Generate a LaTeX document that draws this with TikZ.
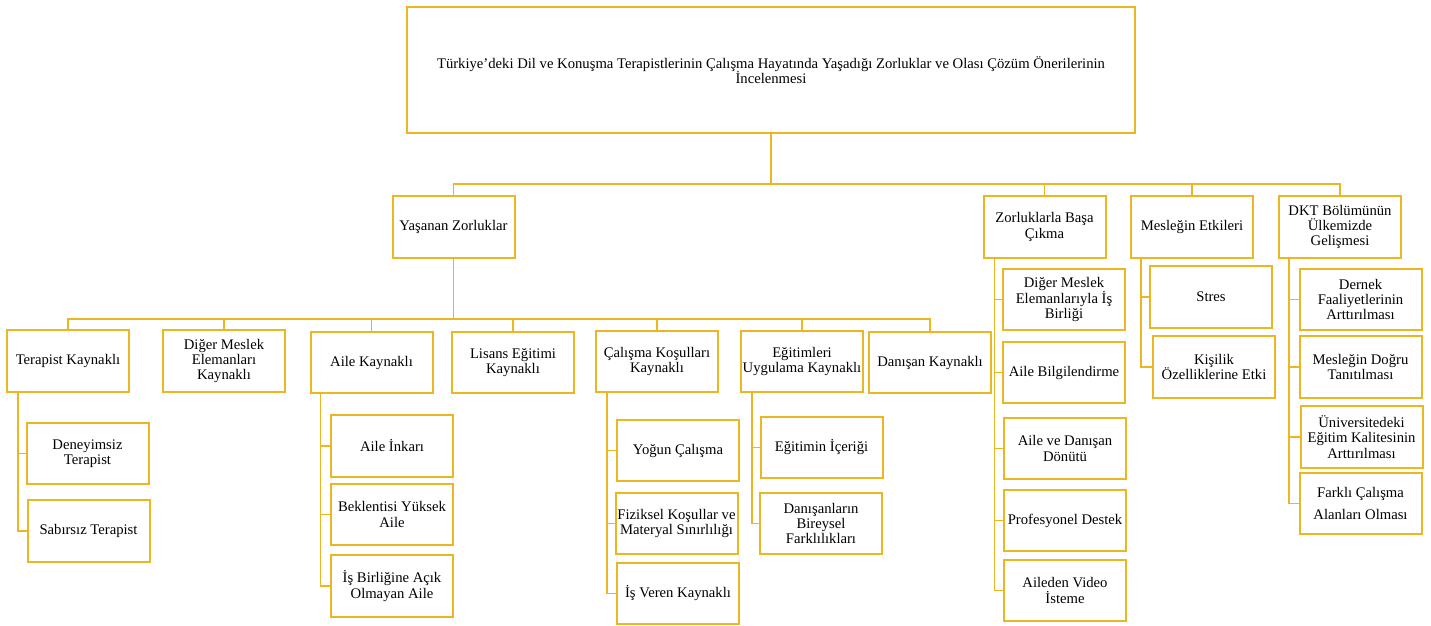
\documentclass[tikz,border=0pt]{standalone}
\usepackage{fontspec}
\setmainfont{Liberation Serif}
\usetikzlibrary{positioning, calc}
\definecolor{boxgold}{RGB}{236,182,34}

\tikzset{
  topicbox/.style={draw=boxgold, line width=1.5pt, fill=white, align=center, inner sep=1pt,
    minimum width=91.5pt, minimum height=46pt, font=\fontsize{11}{11.5}\selectfont},
  link/.style={draw=boxgold, line width=1.4pt},
}

\begin{document}
\begin{tikzpicture}[x=0.75pt, y=-0.75pt]
    \useasboundingbox (0,0) rectangle (1431,625);

    % Main topic
    \node[topicbox, minimum width=546pt, minimum height=94.5pt] (root) at (771,70)
        {Türkiye’deki Dil ve Konuşma Terapistlerinin Çalışma Hayatında Yaşadığı Zorluklar ve Olası Çözüm Önerilerinin\\İncelenmesi};

    % First level
    \node[topicbox] (yas) at (453.5,227) {Yaşanan Zorluklar};
    \node[topicbox] (zor) at (1044.5,227) {Zorluklarla Başa\\Çıkma};
    \node[topicbox] (mes) at (1192,227) {Mesleğin Etkileri};
    \node[topicbox] (dkt) at (1340,227) {DKT Bölümünün\\Ülkemizde\\Gelişmesi};

    % Sources of difficulties
    \node[topicbox] (ter) at (68,361) {Terapist Kaynaklı};
    \node[topicbox] (dig) at (224,361) {Diğer Meslek\\Elemanları\\Kaynaklı};
    \node[topicbox] (aile) at (371.5,362.5) {Aile Kaynaklı};
    \node[topicbox] (lis) at (513,362.5) {Lisans Eğitimi\\Kaynaklı};
    \node[topicbox] (cal) at (657,361.5) {Çalışma Koşulları\\Kaynaklı};
    \node[topicbox] (egi) at (802,361.5) {Eğitimleri\\Uygulama Kaynaklı};
    \node[topicbox] (dan) at (930,362.5) {Danışan Kaynaklı};

    % Third level
    \node[topicbox] (den) at (87.5,453.5) {Deneyimsiz\\Terapist};
    \node[topicbox] (sab) at (88.5,531) {Sabırsız Terapist};
    \node[topicbox] (ink) at (392,446) {Aile İnkarı};
    \node[topicbox] (bek) at (392,514.5) {Beklentisi Yüksek\\Aile};
    \node[topicbox] (isb) at (392,586) {İş Birliğine Açık\\Olmayan Aile};
    \node[topicbox] (yog) at (678,450.5) {Yoğun Çalışma};
    \node[topicbox] (fiz) at (676.5,523.5) {Fiziksel Koşullar ve\\Materyal Sınırlılığı};
    \node[topicbox] (isv) at (678,593.5) {İş Veren Kaynaklı};
    \node[topicbox] (ice) at (821.5,447.5) {Eğitimin İçeriği};
    \node[topicbox] (bir) at (821,523.5) {Danışanların\\Bireysel\\Farklılıkları};

    % Coping, effects, development
    \node[topicbox] (dml) at (1064,299.5) {Diğer Meslek\\Elemanlarıyla İş\\Birliği};
    \node[topicbox] (abi) at (1064,372.5) {Aile Bilgilendirme};
    \node[topicbox] (add) at (1065,448.5) {Aile ve Danışan\\Dönütü};
    \node[topicbox] (pro) at (1065,520.5) {Profesyonel Destek};
    \node[topicbox] (avi) at (1065,590.5) {Aileden Video\\İsteme};
    \node[topicbox] (str) at (1211,297) {Stres};
    \node[topicbox] (kis) at (1214,367) {Kişilik\\Özelliklerine Etki};
    \node[topicbox] (der) at (1360.5,299.5) {Dernek\\Faaliyetlerinin\\Arttırılması};
    \node[topicbox] (dog) at (1360.5,367) {Mesleğin Doğru\\Tanıtılması};
    \node[topicbox] (uni) at (1361.5,437) {Üniversitedeki\\Eğitim Kalitesinin\\Arttırılması};
    \node[topicbox] (far) at (1360.5,503.5) {Farklı Çalışma\\[5pt]Alanları Olması};

    % Tree lines
    \foreach \kid in {yas,zor,mes,dkt}
        \draw[link] (root.south) -- ++(0,50) -| (\kid.north);
    \foreach \kid in {ter,dig,aile,lis,cal,egi,dan}
        \draw[link] (yas.south) -- ++(0,60) -| (\kid.north);

    % Side spines
    \foreach \kid in {den,sab}
        \draw[link] ($(ter.south west)+(12,0)$) |- (\kid.west);
    \foreach \kid in {ink,bek,isb}
        \draw[link] ($(aile.south west)+(11,0)$) |- (\kid.west);
    \foreach \kid in {yog,fiz,isv}
        \draw[link] ($(cal.south west)+(12,0)$) |- (\kid.west);
    \foreach \kid in {ice,bir}
        \draw[link] ($(egi.south west)+(12,0)$) |- (\kid.west);
    \foreach \kid in {dml,abi,add,pro,avi}
        \draw[link] ($(zor.south west)+(12,0)$) |- (\kid.west);
    \foreach \kid in {str,kis}
        \draw[link] ($(mes.south west)+(11,0)$) |- (\kid.west);
    \foreach \kid in {der,dog,uni,far}
        \draw[link] ($(dkt.south west)+(11,0)$) |- (\kid.west);
\end{tikzpicture}
\end{document}
